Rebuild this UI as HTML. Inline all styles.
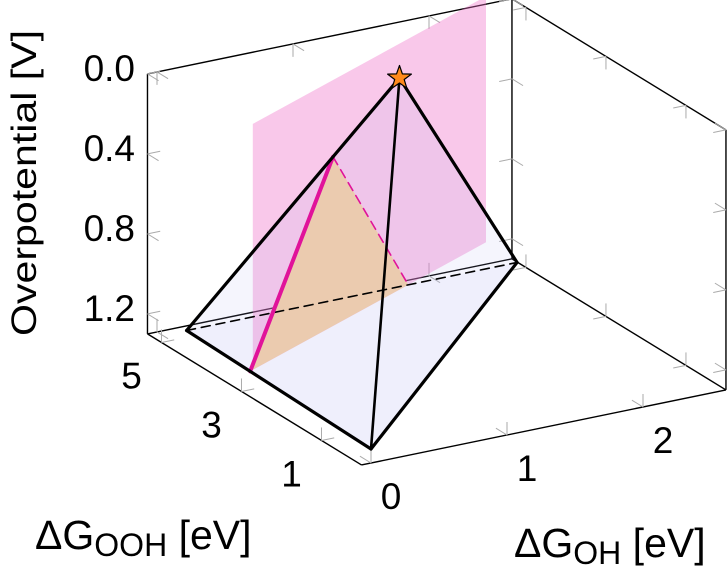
<!DOCTYPE html>
<html><head><meta charset="utf-8"><style>
html,body{margin:0;padding:0;background:#fff;}
svg{display:block;font-family:"Liberation Sans",sans-serif;}
</style></head><body>
<svg id="chart" width="728" height="571" viewBox="0 0 728 571" xmlns="http://www.w3.org/2000/svg">
<g id="back"></g>
<g id="ticks"></g>
<g id="marks"></g>
<g id="labels"></g>
<text x="0" y="0" transform="translate(36,336) rotate(-90)" font-size="35" textLength="306" lengthAdjust="spacingAndGlyphs">Overpotential [V]</text>
<text x="35" y="549" font-size="41">ΔG<tspan font-size="32" dy="7">OOH</tspan><tspan dy="-7"> [eV]</tspan></text>
<text x="514" y="557" font-size="41">ΔG<tspan font-size="32" dy="7">OH</tspan><tspan dy="-7"> [eV]</tspan></text>
</svg>
<script>
// data
const vertexOH = [0, 0.05, 2.48, 1.28];      // front, left, right, apex
const vertexOOH = [0, 4.78, 4.78, 3.64];
const vertexEta = [1.23, 1.23, 1.23, 0];
const planeOffset = 3.1;                      // OOH = OH + offset
const planeOHRange = [0.06, 2.49];
const planeEtaRange = [0, 1.23];
const etaTicks = [0.0, 0.4, 0.8, 1.2];
const etaTickLabels = ["0.0", "0.4", "0.8", "1.2"];
const ohTicks = [0, 1, 2];
const ohTickLabels = ["0", "1", "2"];
const oohTicks = [1, 3, 5];
const oohTickLabels = ["1", "3", "5"];
const ohRange = [-0.07, 2.61];
const oohRange = [0, 5.35];
const etaRange = [0, 1.3];

// projection
function px(oh, ooh, eta){ return 371 + 136*oh - 40*ooh; }
function py(oh, ooh, eta){ return 463 - 28*oh - 24.5*ooh - (1.3 - eta)*200; }
function P(a){ return [px(a[0],a[1],a[2]), py(a[0],a[1],a[2])]; }
const NS = "http://www.w3.org/2000/svg";
function mk(parent, tag, attrs){
  const el = document.createElementNS(NS, tag);
  for (const k in attrs) el.setAttribute(k, attrs[k]);
  parent.appendChild(el); return el;
}
function pts(list){ return list.map(p => P(p).map(v=>v.toFixed(1)).join(",")).join(" "); }

const back = document.getElementById("back");
const ticksG = document.getElementById("ticks");
const marks = document.getElementById("marks");
const labels = document.getElementById("labels");
const [o0,o1] = ohRange, [r0,r1] = oohRange, [e0,e1] = etaRange;

// box edges
const boxEdges = [
  [[o0,r1,e0],[o0,r1,e1]], [[o0,r1,e0],[o1,r1,e0]], [[o1,r1,e0],[o1,r1,e1]],
  [[o1,r1,e0],[o1,r0,e0]], [[o1,r0,e0],[o1,r0,e1]],
  [[o0,r1,e1],[o1,r1,e1]], [[o1,r1,e1],[o1,r0,e1]],
  [[o0,r1,e1],[o0,r0,e1]], [[o0,r0,e1],[o1,r0,e1]]
];
boxEdges.forEach(e => {
  const a = P(e[0]), b = P(e[1]);
  const l = mk(back, "line", {x1:a[0], y1:a[1], x2:b[0], y2:b[1], stroke:"#000", "stroke-width":1.4});
  
  
});

// tick marks
function tick(p, d){
  const a = P(p), b = P([p[0]+d[0], p[1]+d[1], p[2]+d[2]]);
  const dx=b[0]-a[0], dy=b[1]-a[1], n=Math.hypot(dx,dy)||1;
  const t = mk(ticksG, "line", {x1:a[0], y1:a[1], x2:a[0]+dx/n*13, y2:a[1]+dy/n*13, stroke:"#aaa", "stroke-width":1});
  
  
}
etaTicks.forEach(v => {
  tick([o0,r1,v],[1,0,0]); tick([o0,r1,v],[0,-1,0]);
  tick([o1,r1,v],[-1,0,0]); tick([o1,r1,v],[0,-1,0]);
  tick([o1,r0,v],[-1,0,0]); tick([o1,r0,v],[0,1,0]);
});
ohTicks.forEach(v => {
  tick([v,r0,e1],[0,0,-1]); tick([v,r0,e1],[0,1,0]);
  tick([v,r1,e1],[0,0,-1]); tick([v,r1,e1],[0,-1,0]);
  tick([v,r1,e0],[0,0,1]); tick([v,r1,e0],[0,-1,0]);
});
oohTicks.forEach(v => {
  tick([o0,v,e1],[0,0,-1]); tick([o0,v,e1],[1,0,0]);
  tick([o1,v,e1],[0,0,-1]); tick([o1,v,e1],[-1,0,0]);
  tick([o1,v,e0],[0,0,1]); tick([o1,v,e0],[-1,0,0]);
});

// pyramid vertices
const V = vertexOH.map((_,i) => [vertexOH[i], vertexOOH[i], vertexEta[i]]);
const [F,L,R,A] = V;

// base fill
const base = mk(marks, "polygon", {points: pts([F,L,R]), fill:"rgba(215,215,250,0.14)"});



// plane
const pl = [
  [planeOHRange[0], planeOHRange[0]+planeOffset, planeEtaRange[1]],
  [planeOHRange[1], planeOHRange[1]+planeOffset, planeEtaRange[1]],
  [planeOHRange[1], planeOHRange[1]+planeOffset, planeEtaRange[0]],
  [planeOHRange[0], planeOHRange[0]+planeOffset, planeEtaRange[0]]
];
const plane = mk(marks, "polygon", {points: pts(pl), fill:"rgba(240,110,200,0.38)"});



// intersection of plane with pyramid edges
function cut(p, q){
  const fp = p[1]-p[0]-planeOffset, fq = q[1]-q[0]-planeOffset;
  const t = fp/(fp-fq);
  return [p[0]+t*(q[0]-p[0]), p[1]+t*(q[1]-p[1]), p[2]+t*(q[2]-p[2])];
}
const cFL = cut(F,L), cLA = cut(L,A), cLR = cut(L,R);
const tri = mk(marks, "polygon", {points: pts([cFL,cLA,cLR]), fill:"#f4cfa6"});



// faces
[[F,L,A],[F,R,A]].forEach((f,i) => {
  const fa = mk(marks, "polygon", {points: pts(f), fill:"rgba(180,175,240,0.13)"});
  
  
});

function seg(p,q,attrs,name){
  const a=P(p), b=P(q);
  const l = mk(marks, "line", Object.assign({x1:a[0],y1:a[1],x2:b[0],y2:b[1],"stroke-linecap":"round"}, attrs));
  
  
}
seg(L,R,{stroke:"#000","stroke-width":1.6,"stroke-dasharray":"9,6"},"hidden-base-edge");
seg(cLA,cLR,{stroke:"#e0139a","stroke-width":1.6,"stroke-dasharray":"9,6"},"section-dashed-line");
seg(cFL,cLA,{stroke:"#e0139a","stroke-width":4},"section-solid-line");
seg(F,A,{stroke:"#000","stroke-width":2.6},"pyramid-edge-front");
seg(F,L,{stroke:"#000","stroke-width":3.2},"pyramid-edge-fl");
seg(F,R,{stroke:"#000","stroke-width":3.2},"pyramid-edge-fr");
seg(L,A,{stroke:"#000","stroke-width":3.2},"pyramid-edge-la");
seg(R,A,{stroke:"#000","stroke-width":3.2},"pyramid-edge-ra");

// star at apex
const c = P(A); const sp = [];
for (let k=0;k<10;k++){ const r = k%2?5:12.5; const ang = -Math.PI/2 + k*Math.PI/5; sp.push((c[0]+r*Math.cos(ang)).toFixed(1)+","+(c[1]+r*Math.sin(ang)).toFixed(1)); }
const star = mk(marks, "polygon", {points: sp.join(" "), fill:"#ff8a1c", stroke:"#000", "stroke-width":1.2, "stroke-linejoin":"round"});



// tick labels
etaTicks.forEach((v,i) => {
  const t = mk(labels, "text", {x:135, y:py(o0,r1,v)+7, "font-size":37, "text-anchor":"end"});
  t.textContent = etaTickLabels[i];
  
  
});
ohTicks.forEach((v,i) => {
  const t = mk(labels, "text", {x:px(v,r0,e1)+20, y:py(v,r0,e1)+46, "font-size":37, "text-anchor":"middle"});
  t.textContent = ohTickLabels[i];
  
  
});
oohTicks.forEach((v,i) => {
  const t = mk(labels, "text", {x:px(o0,v,e1)-30, y:py(o0,v,e1)+46, "font-size":37, "text-anchor":"middle"});
  t.textContent = oohTickLabels[i];
  
  
});
</script>
</body></html>
